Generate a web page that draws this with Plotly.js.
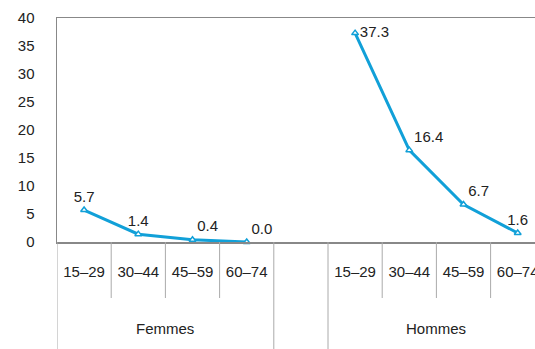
<!DOCTYPE html>
<html>
<head>
<meta charset="utf-8">
<script src="https://cdn.plot.ly/plotly-3.0.1.min.js"></script>
<style>html,body{margin:0;padding:0;background:#fff;}#chart{width:535px;height:349px;}</style>
</head>
<body>
<div id="chart"></div>
<script>
const ageGroups = ["15–29", "30–44", "45–59", "60–74"];
const groups = ["Femmes", "Hommes"];
const femmes = [5.7, 1.4, 0.4, 0.0];
const hommes = [37.3, 16.4, 6.7, 1.6];
const yTicks = [0, 5, 10, 15, 20, 25, 30, 35, 40];

const femmesPos = ["top center", "top center", "top right", "top right"];
const hommesPos = ["middle right", "top right", "top right", "top center"];

// slots: Femmes 0..3, gap 4, Hommes 5..8
const femX = ageGroups.map((_, i) => i);
const homX = ageGroups.map((_, i) => i + ageGroups.length + 1);

const color = "#11a0d8";
function trace(x, y, pos) {
  return {
    x: x, y: y, type: "scatter", mode: "lines+markers+text",
    text: y.map(v => v.toFixed(1)), textposition: pos,
    textfont: {family: "Liberation Sans, Arial, sans-serif", size: 15, color: "#222"},
    line: {color: color, width: 3},
    marker: {symbol: "triangle-up", size: 6, color: "#fff", line: {color: color, width: 1.5}},
    cliponaxis: false, hoverinfo: "skip", showlegend: false
  };
}

const shapes = [];
const plotH = 224;
const shortY = -56 / plotH, longY = -110 / plotH;
[femX, homX].forEach(xs => {
  xs.forEach((x, i) => {
    const isEdge = i === 0;
    shapes.push({type: "line", xref: "x", yref: "paper", x0: x - 0.5, x1: x - 0.5, y0: 0, y1: isEdge ? longY : shortY,
      line: {color: "#aaa", width: 1}});
  });
  const last = xs[xs.length - 1] + 0.5;
  shapes.push({type: "line", xref: "x", yref: "paper", x0: last, x1: last, y0: 0, y1: longY, line: {color: "#aaa", width: 1}});
});

const annotations = groups.map((g, gi) => {
  const xs = gi === 0 ? femX : homX;
  return {text: g, xref: "x", yref: "paper", x: (xs[0] + xs[xs.length - 1]) / 2, y: -86 / plotH,
    xanchor: "center", yanchor: "middle",
    showarrow: false, font: {family: "Liberation Sans, Arial, sans-serif", size: 15, color: "#222"}};
});

const slotPx = 54.2;
const layout = {
  width: 535, height: 349,
  margin: {l: 57, r: 0, t: 18, b: 107},
  paper_bgcolor: "#fff", plot_bgcolor: "#fff",
  font: {family: "Liberation Sans, Arial, sans-serif", size: 15, color: "#222"},
  xaxis: {
    range: [-0.5, -0.5 + 478 / slotPx],
    tickvals: femX.concat(homX), ticktext: ageGroups.concat(ageGroups),
    ticks: "", showgrid: false, zeroline: false,
    showline: true, linecolor: "#888", linewidth: 1.5, mirror: true,
    ticklabelstandoff: 15, ticklabeloverflow: "allow", tickfont: {size: 15, color: "#222"}
  },
  yaxis: {
    range: [0, 40], tickvals: yTicks, ticks: "", showgrid: false, zeroline: false,
    showline: true, linecolor: "#888", linewidth: 1.5,
    ticklabelstandoff: 18, tickfont: {size: 15, color: "#222"}
  },
  shapes: shapes,
  annotations: annotations
};

Plotly.newPlot("chart", [trace(femX, femmes, femmesPos), trace(homX, hommes, hommesPos)], layout, {displayModeBar: false, staticPlot: true});
</script>
</body>
</html>
